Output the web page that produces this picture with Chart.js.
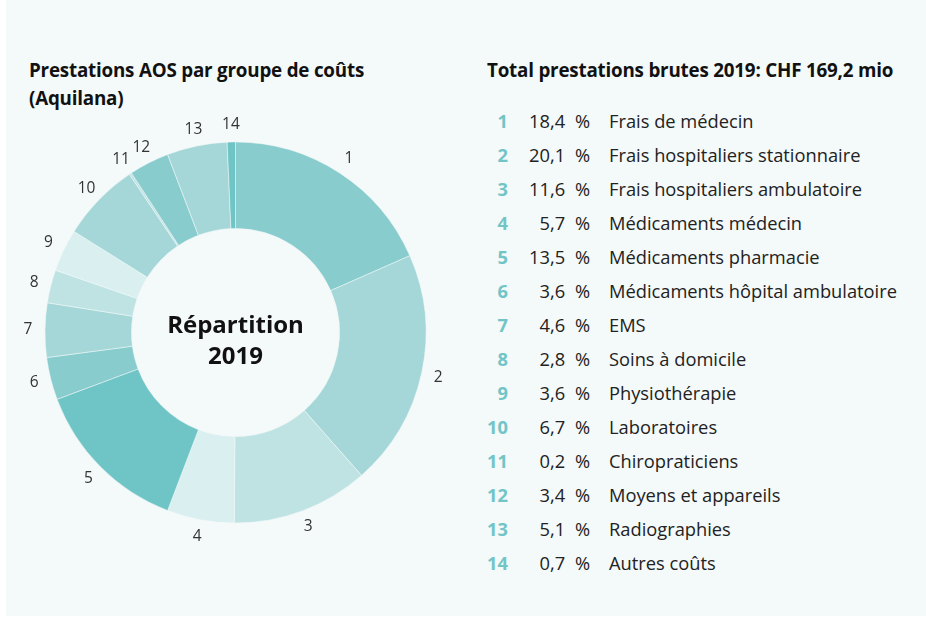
<!DOCTYPE html>
<html lang="fr">
<head>
<meta charset="utf-8">
<script src="https://cdn.jsdelivr.net/npm/chart.js@4.4.1/dist/chart.umd.min.js"></script>
<style>
  html, body { margin: 0; padding: 0; background: #ffffff; }
  body { width: 926px; height: 617px; position: relative; overflow: hidden; font-family: "Open Sans", "Noto Sans", sans-serif; color: #222; }
  #panel { position: absolute; left: 6px; top: 0; width: 920px; height: 616px; background: #f4f9f9; }
  .title { position: absolute; font-weight: 700; font-size: 18.8px; line-height: 28px; color: #111; letter-spacing: -0.2px; }
  #t1 { left: 29px; top: 56px; }
  #t2 { left: 487px; top: 56px; }
  #chartBox { position: absolute; left: 5px; top: 102px; width: 461px; height: 461px; }
  #legend { position: absolute; left: 480px; top: 104px; }
  .row { display: flex; height: 34px; line-height: 34px; font-size: 18.3px; color: #222; }
  .num { width: 28px; text-align: right; font-weight: 700; color: #72c5c6; }
  .pct { width: 82px; text-align: right; }
  .pct .sign { margin-left: 5px; }
  .lab { padding-left: 19px; white-space: nowrap; }
</style>
</head>
<body>
<div id="panel"></div>
<div class="title" id="t1">Prestations AOS par groupe de coûts<br>(Aquilana)</div>
<div class="title" id="t2">Total prestations brutes 2019: CHF 169,2 mio</div>
<div id="chartBox"><canvas id="c" width="461" height="461"></canvas></div>
<div id="legend"></div>
<script>
// ---- data ----
const categoryNumbers = ["1","2","3","4","5","6","7","8","9","10","11","12","13","14"];
const categoryNames = [
  "Frais de médecin",
  "Frais hospitaliers stationnaire",
  "Frais hospitaliers ambulatoire",
  "Médicaments médecin",
  "Médicaments pharmacie",
  "Médicaments hôpital ambulatoire",
  "EMS",
  "Soins à domicile",
  "Physiothérapie",
  "Laboratoires",
  "Chiropraticiens",
  "Moyens et appareils",
  "Radiographies",
  "Autres coûts"
];
const shares = [18.4, 20.1, 11.6, 5.7, 13.5, 3.6, 4.6, 2.8, 3.6, 6.7, 0.2, 3.4, 5.1, 0.7];
const centerLines = ["Répartition", "2019"];

// ---- styles ----
const sliceColors = ["#89cccd","#a5d7d8","#bfe3e3","#d9eff0","#6fc4c5","#89cccd","#a5d7d8","#bfe3e3","#d9eff0","#a5d7d8","#bfe3e3","#89cccd","#a5d7d8","#6fc4c5"];

function fmt(v){ return v.toFixed(1).replace('.', ','); }

// legend (HTML text)
const legend = document.getElementById('legend');
categoryNames.forEach((name, i) => {
  const r = document.createElement('div');
  r.className = 'row';
  r.innerHTML = '<span class="num">' + categoryNumbers[i] + '</span><span class="pct">' + fmt(shares[i]) + ' <span class="sign">%</span></span><span class="lab">' + name + '</span>';
  legend.appendChild(r);
});

const labelPlugin = {
  id: 'sliceLabels',
  afterDatasetsDraw(chart) {
    const ctx = chart.ctx;
    const meta = chart.getDatasetMeta(0);
    ctx.save();
    ctx.fillStyle = '#333';
    ctx.font = '400 15.5px "Open Sans"';
    ctx.textAlign = 'center';
    ctx.textBaseline = 'middle';
    let cx = 0, cy = 0;
    meta.data.forEach((arc, i) => {
      const p = arc.getProps(['x','y','startAngle','endAngle','outerRadius']);
      cx = p.x; cy = p.y;
      const mid = (p.startAngle + p.endAngle) / 2;
      const r = p.outerRadius + 17;
      ctx.fillText(chart.data.labels[i], p.x + Math.cos(mid) * r, p.y + Math.sin(mid) * r);
    });
    ctx.fillStyle = '#111';
    ctx.font = '700 24px "Open Sans"';
    ctx.fillText(centerLines[0], cx, cy - 6);
    ctx.fillText(centerLines[1], cx, cy + 25);
    ctx.restore();
  }
};

function draw() {
  new Chart(document.getElementById('c'), {
    type: 'doughnut',
    data: {
      labels: categoryNumbers,
      datasets: [{
        data: shares,
        backgroundColor: sliceColors,
        borderColor: 'rgba(244,249,249,0.5)',
        borderWidth: 1
      }]
    },
    options: {
      responsive: false,
      animation: false,
      radius: 190.5,
      cutout: '54.6%',
      layout: { padding: 0 },
      plugins: { legend: { display: false }, tooltip: { enabled: false } }
    },
    plugins: [labelPlugin]
  });
}
Promise.all([
  document.fonts.load('400 15.5px "Open Sans"'),
  document.fonts.load('700 24px "Open Sans"')
]).then(draw, draw);
</script>
</body>
</html>
